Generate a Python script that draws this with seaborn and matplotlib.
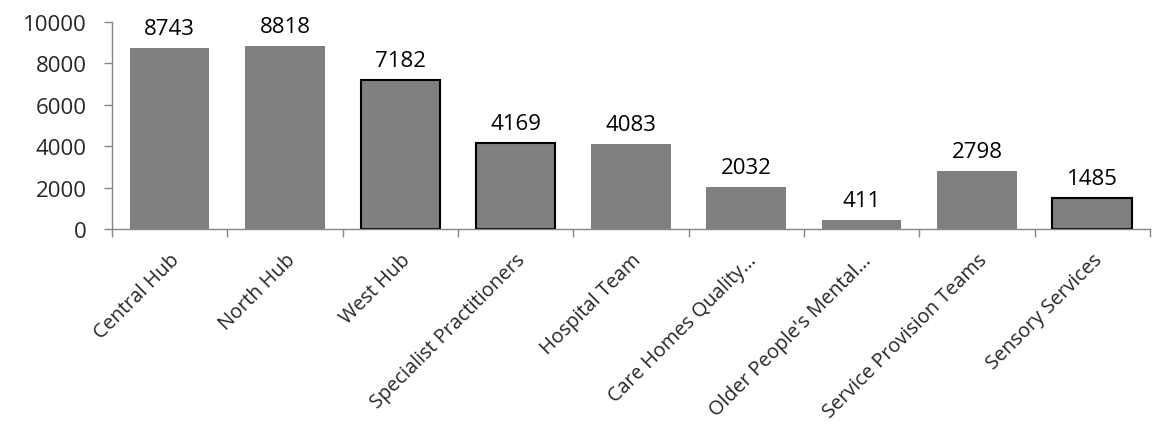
import matplotlib
matplotlib.use("Agg")
import matplotlib.pyplot as plt
import seaborn as sns
import pandas as pd
import numpy as np

teams = ["Central Hub", "North Hub", "West Hub", "Specialist Practitioners",
         "Hospital Team", "Care Homes Quality\u2026", "Older People's Mental\u2026",
         "Service Provision Teams", "Sensory Services"]
counts = [8743, 8818, 7182, 4169, 4083, 2032, 411, 2798, 1485]
outlined = [False, False, True, True, False, False, False, False, True]

sns.set_theme(style="white")
plt.rcParams["font.family"] = ["Open Sans", "DejaVu Sans"]

df = pd.DataFrame({"team": teams, "count": counts})

fig = plt.figure(figsize=(11.58, 4.31), dpi=100)
ax = fig.add_axes([0.0967, 0.4664, 0.8963, 0.4809])

sns.barplot(data=df, x="team", y="count", color="#808080", saturation=1,
            width=0.69, ax=ax)

for patch, edge in zip(ax.patches, outlined):
    if edge:
        patch.set_edgecolor("black")
        patch.set_linewidth(1.5)
    else:
        patch.set_edgecolor("none")
        patch.set_linewidth(0)

for i, v in enumerate(counts):
    ax.annotate(str(v), (i, v), xytext=(0, 6.5), textcoords="offset points",
                ha="center", va="bottom", fontsize=16, color="black")

ax.set_xlim(-0.5, len(teams) - 0.5)
ax.set_ylim(0, 10000)
ax.set_yticks(np.arange(0, 10001, 2000))
ax.set_xlabel("")
ax.set_ylabel("")

# category boundaries carry the tick marks; names sit at the centres
ax.set_xticks(np.arange(len(teams)))
ax.set_xticks(np.arange(len(teams) + 1) - 0.5, minor=True)
ax.set_xticklabels(teams, rotation=45, ha="right", rotation_mode="anchor",
                   fontsize=14.3)
ax.tick_params(axis="x", which="major", length=0, pad=15)
ax.tick_params(axis="x", which="minor", length=6, width=1, color="#868686",
               direction="out", bottom=True)
ax.tick_params(axis="y", length=6, width=1, color="#868686", direction="out",
               left=True, labelsize=16, pad=12)

for side in ["top", "right"]:
    ax.spines[side].set_visible(False)
for side in ["left", "bottom"]:
    ax.spines[side].set_color("#868686")
    ax.spines[side].set_linewidth(1.0)

fig.savefig("out.png", dpi=100)
